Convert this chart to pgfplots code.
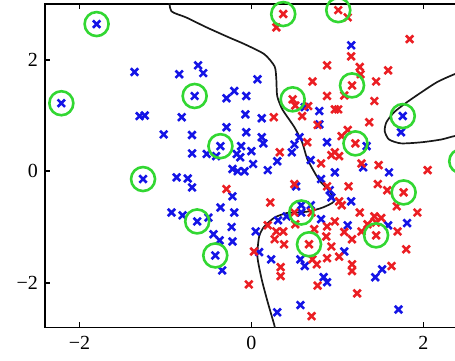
\documentclass[border=0pt]{standalone}
\usepackage{pgfplots}
\pgfplotsset{compat=1.18}
\usepackage{fontspec}
\setmainfont{Liberation Serif}
\definecolor{mblue}{RGB}{20,20,230}
\definecolor{mred}{RGB}{235,30,35}
\definecolor{mgreen}{RGB}{50,215,50}
\begin{document}
\begin{tikzpicture}
\begin{axis}[
  scale only axis, width=215pt, height=161.675pt,
  xmin=-2.4, xmax=2.6, ymin=-2.8, ymax=3.0,
  xtick={-2,0,2}, ytick={-2,0,2},
  xticklabels={−2,0,2}, yticklabels={−2,0,2},
  tick align=inside, major tick length=2.5pt,
  axis line style={line width=0.8pt},
  every tick/.style={black, line width=0.8pt},
  tick label style={font=\fontsize{10}{12}\selectfont},
  xticklabel style={yshift=-1pt},
  yticklabel style={xshift=0pt},
]
\addplot[mark=none, color=black!90, line width=0.85pt, smooth, tension=0.4] coordinates {
(-0.96,3.10) (-0.93,2.87) (-0.76,2.76) (-0.52,2.58) (-0.26,2.40) (-0.08,2.28) (0.15,2.10) (0.27,1.88) (0.29,1.65) (0.30,1.35) (0.36,1.11) (0.50,0.79) (0.59,0.52) (0.65,0.22) (0.76,-0.09) (0.81,-0.20) (0.91,-0.36) (0.96,-0.54) (0.83,-0.65) (0.67,-0.72) (0.53,-0.74) (0.41,-0.75) (0.27,-0.83) (0.15,-0.99) (0.09,-1.17) (0.07,-1.53) (0.12,-1.94) (0.19,-2.35) (0.27,-2.78) (0.28,-2.90)};
\addplot[mark=none, color=black!90, line width=0.85pt, smooth, tension=0.4] coordinates {
(2.59,1.87) (2.36,1.74) (2.16,1.60) (1.98,1.42) (1.81,1.24) (1.66,1.06) (1.57,0.88) (1.55,0.72) (1.60,0.57) (1.74,0.50) (1.98,0.52) (2.21,0.57) (2.36,0.63) (2.59,0.68)};
\addplot[only marks, mark=x, mark size=2.6pt, mblue, line width=1.3pt] coordinates {
(-1.80,2.64) (-2.21,1.22) (-1.36,1.78) (-0.84,1.74) (-0.62,1.90) (-0.56,1.76) (-0.66,1.35) (-0.29,1.31) (-0.20,1.44) (-1.30,0.99) (-1.24,1.00) (-0.81,0.97) (-1.02,0.66) (-0.69,0.65) (-0.29,0.79) (-0.69,0.32) (-0.52,0.31) (-0.41,0.27) (-0.36,0.45) (-0.17,0.31) (-0.22,0.04) (-1.26,-0.14) (-0.87,-0.11) (-0.74,-0.13) (-0.69,-0.29) (-0.16,0) (-0.08,0) (-0.22,-0.45) (-0.93,-0.74) (-0.80,-0.79) (-0.63,-0.90) (-0.50,-0.83) (-0.36,-0.65) (-0.20,-0.74) (-0.44,-1.13) (-0.37,-1.24) (-0.23,-1.00) (-0.22,-1.26) (-0.42,-1.51) (-0.34,-1.78)
(0.07,1.65) (-0.06,1.35) (1.16,2.26) (0.62,1.15) (-0.07,1.02) (0.12,0.95) (0.79,1.08) (1.76,0.99) (1.74,0.70) (0.79,0.84) (-0.06,0.70) (0.12,0.61) (0.14,0.50) (0.56,0.61) (0.50,0.48) (0.47,0.34) (0.88,0.52) (1.34,0.45) (-0.12,0.45) (0,0.36) (-0.13,0.25) (0.02,0.13) (0.30,0.18) (0.19,0.02) (0.69,0.20) (1.30,0.07) (1.60,-0.02) (0.97,-0.02) (0.52,-0.27) (0.81,-0.14) (0.91,-0.34) (0.93,-0.47) (0.58,-0.61) (0.69,-0.61) (0.58,-0.74) (0.81,-0.86) (0.31,-0.88) (0.41,-0.81) (1.16,-0.54) (1.81,-0.93) (1.59,-0.97) (1.12,-0.97) (0.05,-1.08) (0.09,-1.45) (0.23,-1.58) (1.08,-1.44) (0.57,-1.58) (0.62,-1.70) (1.52,-1.76) (1.44,-1.90) (0.84,-1.90) (0.88,-1.99) (0.57,-2.40) (0.30,-2.53) (1.71,-2.48)};
\addplot[only marks, mark=x, mark size=2.6pt, mred, line width=1.3pt] coordinates {
(0.37,2.82) (0.29,2.58) (1.01,2.89) (1.12,2.76) (1.16,2.06) (1.84,2.37) (0.88,1.90) (1.26,1.87) (1.27,1.74) (1.59,1.81) (0.71,1.61) (1.17,1.54) (1.45,1.61) (1.43,1.26) (0.88,1.35) (1.08,1.36) (0.48,1.29) (0.66,1.17) (0.59,0.99) (0.51,1.18) (0.26,0.97) (0.97,1.11) (1.01,1.11) (1.37,0.88) (0.77,0.83) (1.12,0.74) (1.05,0.63) (1.21,0.50) (0.65,0.52) (0.33,0.34) (0.97,0.34) (1.02,0.27) (0.93,0.29) (0.81,0.14) (1.28,0.14) (1.48,0.11) (2.05,0.02) (-0.29,-0.32) (0.50,-0.23) (0.88,-0.27) (1.13,-0.27) (1.47,-0.23) (1.58,-0.34) (1.77,-0.38) (0.22,-0.56) (0.50,-0.74) (0.70,-0.74) (1.02,-0.54) (1.05,-0.61) (1.26,-0.74) (1.43,-0.81) (1.69,-0.63) (1.93,-0.74) (1.70,-1.08) (1.45,-0.92) (1.51,-0.84) (1.35,-0.95) (1.45,-1.15) (0.97,-0.90) (0.88,-0.99) (1.28,-1.08) (1.08,-1.09) (1.17,-1.22) (0.19,-0.97) (0.29,-1.08) (0.37,-1.08) (0.27,-1.22) (0.38,-1.31) (0.51,-0.95) (0.73,-1.04) (0.87,-1.17) (0.67,-1.31) (0.03,-1.44) (0.71,-1.58) (0.88,-1.56) (0.76,-1.67) (1.02,-1.53) (1.17,-1.67) (1.17,-1.79) (0.34,-1.72) (0.34,-1.88) (0.93,-1.35) (1.80,-1.40) (1.63,-1.70) (-0.03,-2.03) (0.77,-2.05) (1.23,-2.19) (0.70,-2.60)};
\addplot[only marks, mark=o, mark size=6pt, mgreen, line width=1.3pt] coordinates {
(-1.80,2.64) (-2.21,1.22) (-0.66,1.35) (-0.36,0.45) (-1.26,-0.14) (-0.63,-0.90) (-0.42,-1.51) (1.76,0.99) (0.58,-0.74)
(0.37,2.82) (1.01,2.89) (1.17,1.54) (0.48,1.29) (1.21,0.50) (1.77,-0.38) (1.45,-1.15) (0.67,-1.31) (2.44,0.18)};
\end{axis}
\pgfresetboundingbox
\path[use as bounding box] ([xshift=-22.5pt,yshift=-16.5pt]current axis.south west) rectangle ([xshift=-10pt,yshift=2pt]current axis.north east);
\end{tikzpicture}
\end{document}
